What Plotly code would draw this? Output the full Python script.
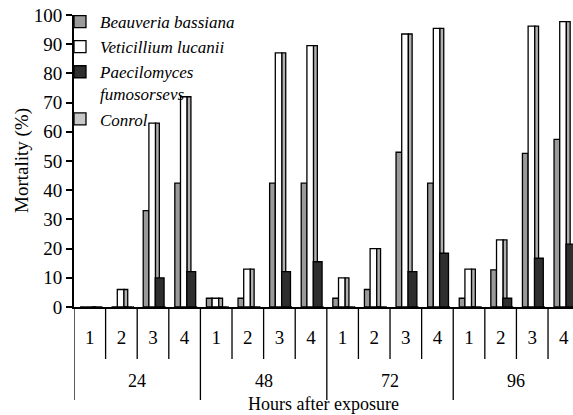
import plotly.graph_objects as go

groups = ["24", "48", "72", "96"]
subs = ["1", "2", "3", "4"]

beauveria = [0, 0, 33, 42.4, 3, 3, 42.4, 42.4, 3, 6, 53, 42.4, 3, 12.7, 52.6, 57.4]
veticillium = [0, 6, 63, 72, 3, 13, 87, 89.5, 10, 20, 93.5, 95.4, 13, 23, 96.2, 97.7]
paecilomyces = [0, 0, 10, 12.1, 0, 0, 12.1, 15.5, 0, 0, 12.1, 18.4, 0, 3, 16.7, 21.5]
control = [0] * 16

x = list(range(len(groups) * len(subs)))
ticktext = subs * len(groups)

FONT = "Liberation Serif, Times New Roman, serif"
line = dict(color="black", width=1.3)

fig = go.Figure()
fig.add_trace(go.Bar(x=x, y=beauveria, name="<i>Beauveria bassiana</i>",
                     offset=-0.31, width=0.18,
                     marker=dict(color="#9a9a9a", line=line)))
fig.add_trace(go.Bar(x=x, y=veticillium, name="<i>Veticillium lucanii</i>",
                     offset=-0.13, width=0.21,
                     marker=dict(color="white", line=line)))
fig.add_trace(go.Bar(x=x, y=veticillium, name="side", showlegend=False,
                     offset=0.08, width=0.12,
                     marker=dict(color="#b0b0b0", line=line)))
fig.add_trace(go.Bar(x=x, y=paecilomyces, name="<i>Paecilomyces<br>fumosorsevs</i>",
                     offset=0.07, width=0.28,
                     marker=dict(color="#2e2e2e", line=line)))
fig.add_trace(go.Bar(x=x, y=control, name="<i>Conrol</i>",
                     offset=0.35, width=0.05,
                     marker=dict(color="#c8c8c8", line=line)))

PLOT_W = 499
PLOT_H = 292
shapes = []
for i in range(len(x) + 1):
    depth = 93 if i % 4 == 0 else 52
    shapes.append(dict(type="line", xref="x", yref="paper",
                       x0=i - 0.5, x1=i - 0.5, y0=0, y1=-depth / PLOT_H,
                       line=dict(color="black", width=1.3)))

annotations = []
for g, name in enumerate(groups):
    annotations.append(dict(x=g * 4 + 1.5, xref="x", y=-74 / PLOT_H, yref="paper",
                            text=name, showarrow=False, yanchor="middle",
                            font=dict(family=FONT, size=18, color="black")))
annotations.append(dict(x=0.5, xref="paper", y=-97 / PLOT_H, yref="paper",
                        text="Hours after exposure", showarrow=False, yanchor="middle",
                        font=dict(family=FONT, size=18, color="black")))
annotations.append(dict(x=(22 - 74) / PLOT_W, xref="paper", y=0.5, yref="paper",
                        text="Mortality (%)", showarrow=False, textangle=-90,
                        xanchor="center", yanchor="middle",
                        font=dict(family=FONT, size=19, color="black")))

fig.update_layout(
    template="none",
    width=573, height=415,
    margin=dict(l=74, r=0, t=15, b=108, autoexpand=False),
    plot_bgcolor="white", paper_bgcolor="white",
    barmode="overlay",
    font=dict(family=FONT, size=19, color="black"),
    showlegend=True,
    legend=dict(x=60 / 573, xref="container", xanchor="left",
                y=1 - 4 / 415, yref="container", yanchor="top",
                bgcolor="rgba(0,0,0,0)", valign="top",
                font=dict(family=FONT, size=17, color="black"),
                itemwidth=30, tracegroupgap=0),
    shapes=shapes,
    annotations=annotations,
)
fig.update_xaxes(range=[-0.5, 15.29], tickvals=x, ticktext=ticktext, automargin=False,
                 ticks="", showline=True, linecolor="black", linewidth=2,
                 showgrid=False, zeroline=False, ticklabelstandoff=12,
                 tickfont=dict(family=FONT, size=19, color="black"))
fig.update_yaxes(range=[0, 100], dtick=10, ticks="outside", ticklen=6, tickwidth=1.5,
                 tickcolor="black", showline=True, linecolor="black", linewidth=2,
                 showgrid=False, zeroline=False, automargin=False,
                 tickfont=dict(family=FONT, size=19, color="black"))

fig.write_html("out.html", config={"displayModeBar": False},
               post_script="document.body.style.margin='0';document.body.style.overflow='hidden';")
